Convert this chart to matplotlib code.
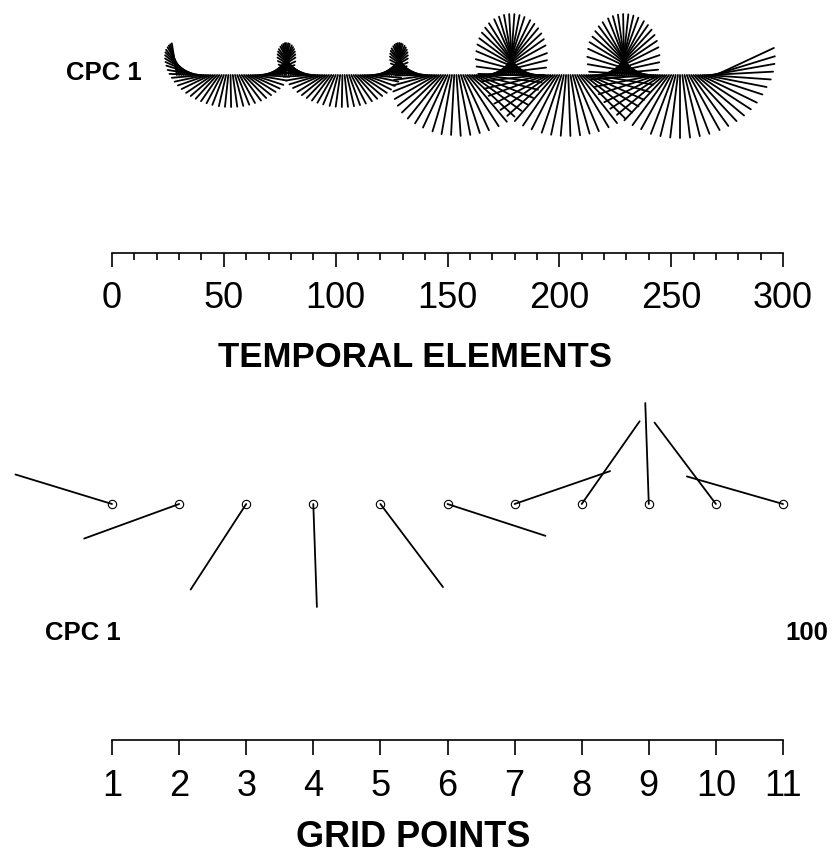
import numpy as np
import matplotlib
matplotlib.use("Agg")
import matplotlib.pyplot as plt
from matplotlib.collections import LineCollection
from matplotlib.transforms import Affine2D

plt.rcParams['font.family'] = ['Liberation Sans', 'DejaVu Sans']

W, H = 833, 856
fig = plt.figure(figsize=(W / 100, H / 100), dpi=100)

# ---------------- data ----------------
# temporal elements (time index) of CPC 1
temporal_t = np.arange(29, 271)
# stick length (amplitude) per temporal element
temporal_amp = [
    32, 32, 32, 32, 32, 32, 32, 32, 32, 32,
    32, 32, 32, 32, 32, 32, 32, 32, 32, 32,
    32, 32, 32, 32, 32, 32, 32, 32, 32, 32,
    32, 32, 32, 32, 32, 32, 32, 32, 32, 32,
    32, 32, 32, 32, 32, 32, 32, 32, 32, 32,
    32, 32, 32, 32, 32, 32, 32, 32, 32, 32,
    32, 32, 32, 32, 32, 32, 32, 32, 32, 32,
    32, 32, 32, 32, 32, 32, 32, 32, 32, 32,
    32, 32, 32, 32, 32, 32, 32, 32, 32, 32,
    32, 32, 32, 32, 32, 32, 32, 32, 32, 32,
    32, 32, 32, 32, 32, 32, 32, 32, 32, 32,
    32, 32, 32, 36, 40, 44, 48, 51, 54, 56,
    57, 58, 59, 60, 60, 61, 61, 61, 61, 61,
    61, 61, 61, 61, 61, 61, 61, 61, 61, 61,
    61, 61, 61, 61, 61, 61, 61, 61, 61, 61,
    61, 61, 61, 61, 61, 61, 61, 61, 61, 61,
    61, 61, 61, 61, 61, 61, 61, 61, 61, 61,
    61, 61, 61, 61, 61, 61, 61, 61, 61, 61,
    61, 61, 61, 61, 61, 61, 61, 61, 61, 61,
    61, 61, 61, 61, 61, 61, 61, 61, 61, 61,
    61, 61, 61, 61, 61, 61, 61, 61, 62, 62,
    62, 62, 62, 62, 62, 62, 62, 62, 62, 62,
    62, 62, 63, 63, 63, 63, 63, 63, 63, 63,
    63, 63, 63, 63, 63, 63, 63, 64, 64, 64,
    64, 64,
]
# stick direction (phase, degrees counter-clockwise from east)
temporal_phase = [
    99, 106, 113, 120, 128, 135, 142, 149, 156, 163,
    171, 178, 185, 192, 199, 206, 214, 221, 228, 235,
    242, 249, 257, 264, 271, 278, 285, 292, 299, 307,
    314, 321, 328, 335, 342, 350, 357, 4, 11, 18,
    25, 33, 40, 47, 54, 61, 68, 76, 83, 90,
    97, 104, 111, 118, 126, 133, 140, 147, 154, 161,
    169, 176, 183, 190, 197, 204, 212, 219, 226, 233,
    240, 247, 255, 262, 269, 276, 283, 290, 297, 305,
    312, 319, 326, 333, 340, 348, 355, 2, 9, 16,
    23, 31, 38, 45, 52, 59, 66, 74, 81, 88,
    95, 102, 109, 116, 124, 131, 138, 145, 152, 159,
    167, 174, 181, 188, 195, 202, 210, 217, 224, 231,
    238, 245, 253, 260, 267, 274, 281, 288, 295, 303,
    310, 317, 324, 331, 338, 346, 353, 0, 7, 14,
    21, 29, 36, 43, 50, 57, 64, 72, 79, 86,
    93, 100, 107, 114, 122, 129, 136, 143, 150, 157,
    165, 172, 179, 186, 193, 200, 208, 215, 222, 229,
    236, 243, 251, 258, 265, 272, 279, 286, 293, 301,
    308, 315, 322, 329, 336, 344, 351, 358, 5, 12,
    19, 27, 34, 41, 48, 55, 62, 70, 77, 84,
    91, 98, 105, 112, 120, 127, 134, 141, 148, 155,
    163, 170, 177, 184, 191, 198, 206, 213, 220, 227,
    234, 241, 249, 256, 263, 270, 277, 284, 291, 299,
    306, 313, 320, 327, 334, 342, 349, 356, 3, 10,
    17, 25,
]
temporal_ticks = [0, 50, 100, 150, 200, 250, 300]
temporal_minor = list(range(0, 301, 10))

grid_points = np.arange(1, 12)
grid_amp = [101, 101, 102, 103, 104, 103, 101, 101, 101, 102, 100]
grid_phase = [163, 200, 237, 272, 307, 342, 19, 55, 92, 127, 164]

# ---------------- helpers ----------------
def px_axes(top_px, bottom_px):
    ax = fig.add_axes([0, 1 - bottom_px / H, 1, (bottom_px - top_px) / H])
    ax.patch.set_visible(False)
    for s in ['top', 'left', 'right']:
        ax.spines[s].set_visible(False)
    ax.set_yticks([])
    return ax


def sticks(ax, x, amp, phase, lw):
    amp = np.asarray(amp, float)
    ph = np.deg2rad(np.asarray(phase, float))
    segs = [[(0.0, 0.0), (a * np.cos(p), a * np.sin(p))] for a, p in zip(amp, ph)]
    offs = np.column_stack([np.asarray(x, float), np.zeros(len(amp))])
    lc = LineCollection(segs, offsets=offs, offset_transform=ax.transData,
                        transform=Affine2D().scale(fig.dpi / 100.0),
                        colors='black', linewidths=lw, capstyle='round',
                        clip_on=False)
    ax.add_collection(lc, autolim=False)


def ftext(x, y, s, size, weight='bold', ha='center', va='baseline'):
    fig.text(x / W, 1 - y / H, s, ha=ha, va=va, fontsize=size,
             fontweight=weight)

# ---------------- top panel ----------------
ax1 = px_axes(0, 400)
sx1 = (783 - 112) / 300.0
ax1.set_xlim(-112 / sx1, (W - 112) / sx1)
base1 = 75
ax1.set_ylim(base1 - 400, base1)
sticks(ax1, temporal_t, temporal_amp, temporal_phase, 1.3)
ax1.spines['bottom'].set_position(('data', base1 - 253))
ax1.spines['bottom'].set_bounds(0, 300)
ax1.spines['bottom'].set_linewidth(1.2)
ax1.set_xticks(temporal_ticks)
ax1.set_xticks(temporal_minor, minor=True)
ax1.tick_params(axis='x', which='major', length=10, width=1.2,
                labelsize=26, pad=10, direction='out')
ax1.tick_params(axis='x', which='minor', length=5, width=1.2)

# ---------------- bottom panel ----------------
ax2 = px_axes(400, 856)
sx2 = (783 - 112) / 10.0
ax2.set_xlim(1 - 112 / sx2, 1 + (W - 112) / sx2)
base2 = 504 - 400
ax2.set_ylim(base2 - 456, base2)
sticks(ax2, grid_points, grid_amp, grid_phase, 1.3)
ax2.plot(grid_points, np.zeros(len(grid_points)), 'o', mfc='none', mec='black',
         ms=6, mew=0.8, clip_on=False)
ax2.spines['bottom'].set_position(('data', 504 - 740))
ax2.spines['bottom'].set_bounds(1, 11)
ax2.spines['bottom'].set_linewidth(1.2)
ax2.set_xticks(list(grid_points))
ax2.tick_params(axis='x', which='major', length=11, width=1.2,
                labelsize=26, pad=10, direction='out')

# ---------------- labels ----------------
ftext(104, 80, 'CPC 1', 18.5)
ftext(415, 367, 'TEMPORAL ELEMENTS', 25)
ftext(83, 640, 'CPC 1', 18.5)
ftext(807, 640, '100', 18.5)
ftext(413, 855, 'GRID POINTS', 26, va='bottom')

fig.savefig('out.png', dpi=100)
